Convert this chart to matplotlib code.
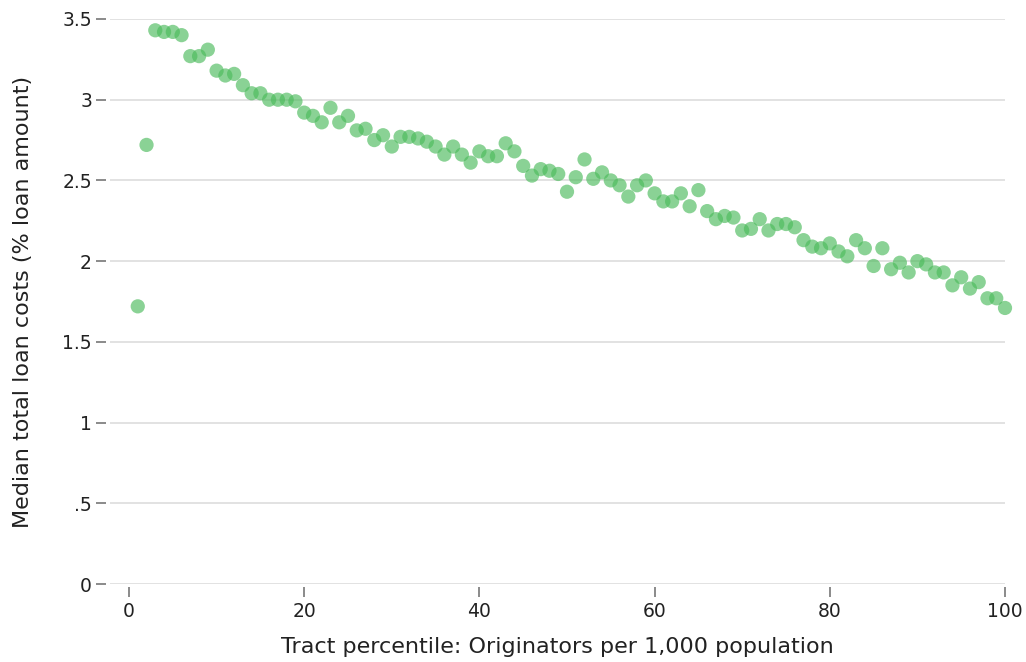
import matplotlib.pyplot as plt
import numpy as np

# tract percentile and median total loan costs (% of loan amount)
percentile = list(range(1, 101))
loan_costs = [
    1.72, 2.72, 3.43, 3.42, 3.42, 3.40, 3.27, 3.27, 3.31, 3.18,
    3.15, 3.16, 3.09, 3.04, 3.04, 3.00, 3.00, 3.00, 2.99, 2.92,
    2.90, 2.86, 2.95, 2.86, 2.90, 2.81, 2.82, 2.75, 2.78, 2.71,
    2.77, 2.77, 2.76, 2.74, 2.71, 2.66, 2.71, 2.66, 2.61, 2.68,
    2.65, 2.65, 2.73, 2.68, 2.59, 2.53, 2.57, 2.56, 2.54, 2.43,
    2.52, 2.63, 2.51, 2.55, 2.50, 2.47, 2.40, 2.47, 2.50, 2.42,
    2.37, 2.37, 2.42, 2.34, 2.44, 2.31, 2.26, 2.28, 2.27, 2.19,
    2.20, 2.26, 2.19, 2.23, 2.23, 2.21, 2.13, 2.09, 2.08, 2.11,
    2.06, 2.03, 2.13, 2.08, 1.97, 2.08, 1.95, 1.99, 1.93, 2.00,
    1.98, 1.93, 1.93, 1.85, 1.90, 1.83, 1.87, 1.77, 1.77, 1.71,
]

y_ticks = [0, 0.5, 1, 1.5, 2, 2.5, 3, 3.5]
y_labels = ['0', '.5', '1', '1.5', '2', '2.5', '3', '3.5']
x_ticks = [0, 20, 40, 60, 80, 100]

fig = plt.figure(figsize=(10.26, 6.62), dpi=100)
W, H = 1026, 662
ax = fig.add_axes([110 / W, (H - 584) / H, (1005 - 110) / W, (584 - 19) / H])

ax.scatter(percentile, loan_costs, s=105, color='#4cbb5c', alpha=0.65,
           edgecolors='none', zorder=3, clip_on=False)

ax.set_xlim(-2.17, 100)
ax.set_ylim(0, 3.5)
ax.set_yticks(y_ticks)
ax.set_yticklabels(y_labels)
ax.set_xticks(x_ticks)

ax.grid(axis='y', color='#e2e2e2', linewidth=1.4)
ax.set_axisbelow(True)
for s in ax.spines.values():
    s.set_visible(False)
ax.spines['left'].set_position(('outward', 3))
ax.spines['bottom'].set_position(('outward', 2))

ax.tick_params(axis='both', colors='#777777', labelcolor='#222222',
               labelsize=13.5, length=7, width=1.2)
ax.tick_params(axis='y', pad=3)
ax.tick_params(axis='x', pad=4)

ax.set_xlabel('Tract percentile: Originators per 1,000 population',
              fontsize=16, color='#222222')
ax.set_ylabel('Median total loan costs (% loan amount)',
              fontsize=16, color='#222222')
ax.xaxis.set_label_coords(0.5, -0.093)
ax.yaxis.set_label_coords(-0.086, 0.5)

fig.savefig('out.png', dpi=100)
